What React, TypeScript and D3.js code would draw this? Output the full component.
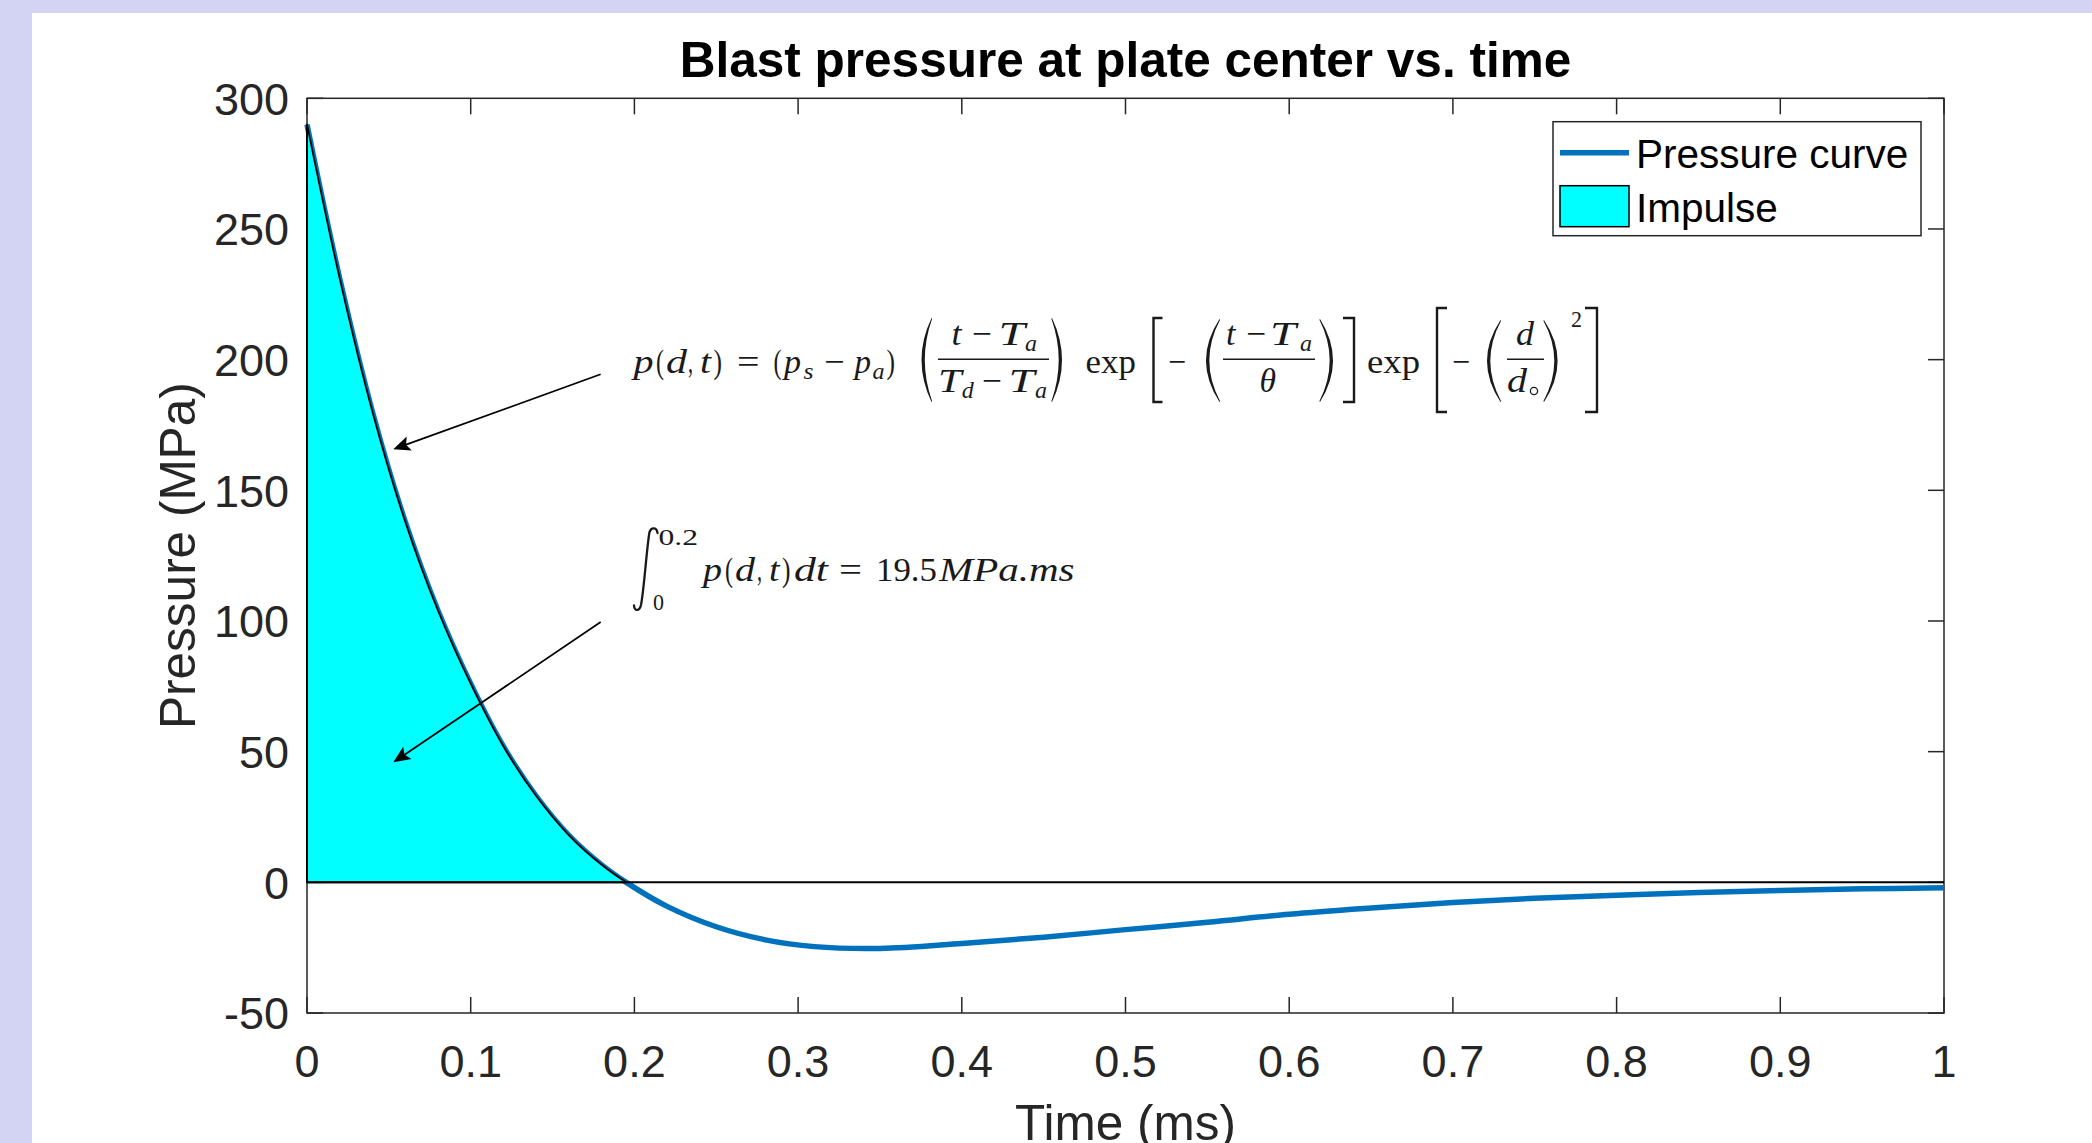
import React, { useEffect } from "react";
import * as d3 from "d3";

// ---- data ----
const timeMs = [0, 0.02, 0.04, 0.06, 0.08, 0.1, 0.12, 0.14, 0.16, 0.18, 0.195, 0.22, 0.25, 0.28, 0.31, 0.35, 0.4, 0.45, 0.5, 0.55, 0.6, 0.65, 0.7, 0.75, 0.8, 0.85, 0.9, 0.95, 1.0];
const pressureMPa = [290, 231, 180, 138, 104, 76, 52, 33, 18, 6.7, 0, -9.2, -17, -22, -24.6, -25.3, -23.4, -21, -18.1, -15.3, -12.2, -9.8, -7.7, -6.1, -4.9, -3.9, -3.1, -2.5, -2.1];
const impulseEnd = 0.195;
const xTicks = [0, 0.1, 0.2, 0.3, 0.4, 0.5, 0.6, 0.7, 0.8, 0.9, 1];
const xTickLabels = ["0", "0.1", "0.2", "0.3", "0.4", "0.5", "0.6", "0.7", "0.8", "0.9", "1"];
const yTicks = [-50, 0, 50, 100, 150, 200, 250, 300];
const yTickLabels = ["-50", "0", "50", "100", "150", "200", "250", "300"];
const legendLabels = ["Pressure curve", "Impulse"];
const titleText = "Blast pressure at plate center vs. time";
const xLabel = "Time (ms)";
const yLabel = "Pressure (MPa)";
// annotation arrows in data units: [tStart, pStart, tTip, pTip]
const arrow1 = [0.1794, 194.4, 0.0527, 165.7];
const arrow2 = [0.1794, 99.6, 0.0527, 45.9];

const W = 2092, H = 1143;
const AX = "#262626";
const BLUE = "#0072BD";
const SANS = "'Liberation Sans', Arial, Helvetica, sans-serif";
const SERIF = "'Liberation Serif', 'Times New Roman', serif";
const INK = "#1a1a1a";

function Lparen({ x0, x1, top, bot }: any) {
  const mid = (top + bot) / 2;
  const d = `M ${x1} ${top} Q ${2 * x0 - x1} ${mid} ${x1} ${bot} L ${x1 + 0.6} ${bot - 0.8} Q ${2 * (x0 + 3) - x1} ${mid} ${x1 + 0.6} ${top + 0.8} Z`;
  return <path d={d} fill={INK} />;
}
function Rparen({ x0, x1, top, bot }: any) {
  const mid = (top + bot) / 2;
  const d = `M ${x0} ${top} Q ${2 * x1 - x0} ${mid} ${x0} ${bot} L ${x0 - 0.6} ${bot - 0.8} Q ${2 * (x1 - 3) - x0} ${mid} ${x0 - 0.6} ${top + 0.8} Z`;
  return <path d={d} fill={INK} />;
}
function Lbrack({ x0, x1, top, bot }: any) {
  return <path d={`M ${x1} ${top} L ${x0} ${top} L ${x0} ${bot} L ${x1} ${bot}`} fill="none" stroke={INK} strokeWidth={2.4} />;
}
function Rbrack({ x0, x1, top, bot }: any) {
  return <path d={`M ${x0} ${top} L ${x1} ${top} L ${x1} ${bot} L ${x0} ${bot}`} fill="none" stroke={INK} strokeWidth={2.4} />;
}
function G({ x, y, w, s = 34, it = false, children }: any) {
  return (
    <text x={x} y={y} fontSize={s} fontFamily={SERIF} fontStyle={it ? "italic" : "normal"} fill={INK}
      textLength={w} lengthAdjust="spacingAndGlyphs">{children}</text>
  );
}
function Arrow({ x1, y1, x2, y2 }: any) {
  const ang = Math.atan2(y2 - y1, x2 - x1);
  const L = 17, hw = 7.5;
  const ux = Math.cos(ang), uy = Math.sin(ang);
  const px = -uy, py = ux;
  const bx = x2 - ux * L, by = y2 - uy * L;
  const nx = x2 - ux * L * 0.8, ny = y2 - uy * L * 0.8;
  const pts = [[x2, y2], [bx + px * hw, by + py * hw], [nx, ny], [bx - px * hw, by - py * hw]];
  return (
    <g>
      <line x1={x1} y1={y1} x2={nx} y2={ny} stroke="#000" strokeWidth={1.7} />
      <polygon points={pts.map((p) => p.join(",")).join(" ")} fill="#000" />
    </g>
  );
}

export default function App() {
  useEffect(() => {
    document.body.style.margin = "0";
  }, []);

  const x = d3.scaleLinear().domain([0, 1]).range([307, 1944]);
  const y = d3.scaleLinear().domain([-50, 300]).range([1013, 98.3]);

  const pts: [number, number][] = timeMs.map((t, i) => [t, pressureMPa[i]]);
  const curve = d3.curveCatmullRom.alpha(0.5);
  const line = d3.line<[number, number]>().x((d) => x(d[0])).y((d) => y(d[1])).curve(curve);
  const area = d3.area<[number, number]>().x((d) => x(d[0])).y0(y(0)).y1((d) => y(d[1])).curve(curve);

  const tick = 16;
  const [L, R, T, B] = [x(0), x(1), y(300), y(-50)];

  // formula 1 baseline, fraction levels
  const b0 = 373, bn = 345, bd = 391.7, sub = 6;

  return (
    <svg width={W} height={H} viewBox={`0 0 ${W} ${H}`} style={{ display: "block", position: "absolute", left: 0, top: 0 }}>
      <defs>
        <clipPath id="impclip">
          <rect x={L - 4} y={T - 4} width={x(impulseEnd) - L + 4} height={y(0) - T + 6} />
        </clipPath>
      </defs>
      <rect x={0} y={0} width={W} height={H} fill="#ffffff" />
      <rect x={0} y={0} width={W} height={13} fill="#d3d3f3" />
      <rect x={0} y={0} width={32} height={H} fill="#d3d3f3" />

      {/* axes box */}
      <rect x={L} y={T} width={R - L} height={B - T} fill="#fff" stroke={AX} strokeWidth={1.5} />
      {xTicks.map((t) => (
        <g key={"xt" + t}>
          <line x1={x(t)} x2={x(t)} y1={B} y2={B - tick} stroke={AX} strokeWidth={1.5} />
          <line x1={x(t)} x2={x(t)} y1={T} y2={T + tick} stroke={AX} strokeWidth={1.5} />
        </g>
      ))}
      {yTicks.map((v) => (
        <g key={"yt" + v}>
          <line x1={L} x2={L + tick} y1={y(v)} y2={y(v)} stroke={AX} strokeWidth={1.5} />
          <line x1={R} x2={R - tick} y1={y(v)} y2={y(v)} stroke={AX} strokeWidth={1.5} />
        </g>
      ))}
      {xTicks.map((t, i) => (
        <text key={"xl" + t} x={x(t)} y={1076.7} textAnchor="middle" fontFamily={SANS} fontSize={45} fill={AX}>{xTickLabels[i]}</text>
      ))}
      {yTicks.map((v, i) => (
        <text key={"yl" + v} x={289} y={y(v)} dy="0.36em" textAnchor="end" fontFamily={SANS} fontSize={45} fill={AX}>{yTickLabels[i]}</text>
      ))}

      {/* data */}
      <path d={line(pts) || ""} fill="none" stroke={BLUE} strokeWidth={5.5} strokeLinejoin="round" />
      <g clipPath="url(#impclip)">
        <path d={area(pts) || ""} fill="#00ffff" stroke="#000" strokeWidth={1.8} strokeLinejoin="round" />
      </g>
      <line x1={L} x2={L} y1={y(pressureMPa[0])} y2={y(0)} stroke="#000" strokeWidth={1.8} />
      <line x1={x(0)} x2={x(1)} y1={y(0)} y2={y(0)} stroke="#000" strokeWidth={2} />

      {/* titles */}
      <text x={(L + R) / 2} y={77} textAnchor="middle" fontFamily={SANS} fontWeight="bold" fontSize={49.5} fill="#000">{titleText}</text>
      <text x={(L + R) / 2} y={1140} textAnchor="middle" fontFamily={SANS} fontSize={49.5} fill={AX}>{xLabel}</text>
      <text transform={`translate(195, ${(T + B) / 2}) rotate(-90)`} textAnchor="middle" fontFamily={SANS} fontSize={49.5} fill={AX}>{yLabel}</text>

      {/* arrows */}
      <Arrow x1={x(arrow1[0])} y1={y(arrow1[1])} x2={x(arrow1[2])} y2={y(arrow1[3])} />
      <Arrow x1={x(arrow2[0])} y1={y(arrow2[1])} x2={x(arrow2[2])} y2={y(arrow2[3])} />

      {/* formula 1 */}
      <g>
        <G x={633.6} y={b0} w={20} it>p</G>
        <G x={656} y={b0} w={8}>(</G>
        <G x={666} y={b0} w={21} it>d</G>
        <G x={688} y={b0} w={5}>,</G>
        <G x={700} y={b0} w={11} it>t</G>
        <G x={713.5} y={b0} w={8.5}>)</G>
        <G x={737} y={b0} w={22.5}>=</G>
        <G x={773.5} y={b0} w={8}>(</G>
        <G x={784} y={b0} w={17} it>p</G>
        <G x={803.5} y={b0 + sub} w={10} s={24} it>s</G>
        <G x={824} y={b0} w={20.5}>−</G>
        <G x={854.5} y={b0} w={16.5} it>p</G>
        <G x={872.6} y={b0 + sub} w={12} s={24} it>a</G>
        <G x={886.5} y={b0} w={8.5}>)</G>

        <Lparen x0={921.5} x1={931.5} top={318} bot={402} />
        <G x={951.6} y={bn} w={10} it>t</G>
        <G x={971.7} y={bn} w={20}>−</G>
        <G x={998.5} y={bn} w={26.5} it>T</G>
        <G x={1025} y={bn + sub} w={12} s={24} it>a</G>
        <line x1={938} x2={1049} y1={359.3} y2={359.3} stroke={INK} strokeWidth={1.6} />
        <G x={938} y={bd} w={23.5} it>T</G>
        <G x={961.7} y={bd + sub} w={12} s={24} it>d</G>
        <G x={981.8} y={bd} w={20}>−</G>
        <G x={1008.5} y={bd} w={26} it>T</G>
        <G x={1035} y={bd + sub} w={12} s={24} it>a</G>
        <Rparen x0={1052} x1={1062} top={318} bot={402} />

        <G x={1085.5} y={b0} w={50.3}>exp</G>
        <Lbrack x0={1153.5} x1={1162.5} top={318} bot={402} />
        <G x={1168} y={b0} w={18}>−</G>
        <Lparen x0={1206} x1={1219.5} top={319} bot={402} />
        <G x={1226} y={bn} w={9.5} it>t</G>
        <G x={1246} y={bn} w={20}>−</G>
        <G x={1270} y={bn} w={26} it>T</G>
        <G x={1300} y={bn + sub} w={12} s={24} it>a</G>
        <line x1={1223} x2={1315} y1={359.3} y2={359.3} stroke={INK} strokeWidth={1.6} />
        <G x={1259.6} y={bd} w={16.5} it>θ</G>
        <Rparen x0={1320} x1={1333} top={319} bot={402} />
        <Rbrack x0={1343} x1={1354} top={318} bot={402} />

        <G x={1367} y={b0} w={53}>exp</G>
        <Lbrack x0={1437} x1={1447} top={308} bot={412} />
        <G x={1452} y={b0} w={18}>−</G>
        <Lparen x0={1487} x1={1500.5} top={320} bot={402} />
        <G x={1516} y={bn} w={18} it>d</G>
        <line x1={1507} x2={1544} y1={359.3} y2={359.3} stroke={INK} strokeWidth={1.6} />
        <G x={1507} y={bd} w={20} it>d</G>
        <circle cx={1534} cy={391} r={3.6} fill="none" stroke={INK} strokeWidth={1.3} />
        <Rparen x0={1544} x1={1557.6} top={320} bot={402} />
        <G x={1571} y={327} w={11} s={24}>2</G>
        <Rbrack x0={1585} x1={1597} top={308} bot={412} />
      </g>

      {/* formula 2 */}
      <g>
        <path d="M 657.5 533 C 657 527.5 651.5 526.5 649.5 532 C 647 545 644 590 641 605 C 639.5 611.5 634.5 611.5 634 605.5"
          fill="none" stroke={INK} strokeWidth={2.3} strokeLinecap="round" />
        <G x={658.5} y={545} w={39.5} s={23}>0.2</G>
        <G x={653} y={610} w={11} s={23}>0</G>
        <G x={703} y={581} w={19} it>p</G>
        <G x={725} y={581} w={8}>(</G>
        <G x={735} y={581} w={20} it>d</G>
        <G x={757} y={581} w={5}>,</G>
        <G x={769} y={581} w={10.5} it>t</G>
        <G x={782} y={581} w={8.5}>)</G>
        <G x={794} y={581} w={34} it>dt</G>
        <G x={839} y={581} w={23}>=</G>
        <G x={876} y={581} w={61}>19.5</G>
        <G x={939} y={581} w={135.5} it>MPa.ms</G>
      </g>

      {/* legend */}
      <rect x={1553} y={121.7} width={368} height={114} fill="#fff" stroke={AX} strokeWidth={1.5} />
      <line x1={1560} x2={1629} y1={152.7} y2={152.7} stroke={BLUE} strokeWidth={5.5} />
      <rect x={1560} y={185.7} width={69} height={41} fill="#00ffff" stroke="#000" strokeWidth={1.5} />
      <text x={1636} y={168} fontFamily={SANS} fontSize={40.5} fill="#000">{legendLabels[0]}</text>
      <text x={1636} y={221.7} fontFamily={SANS} fontSize={40.5} fill="#000">{legendLabels[1]}</text>
    </svg>
  );
}
